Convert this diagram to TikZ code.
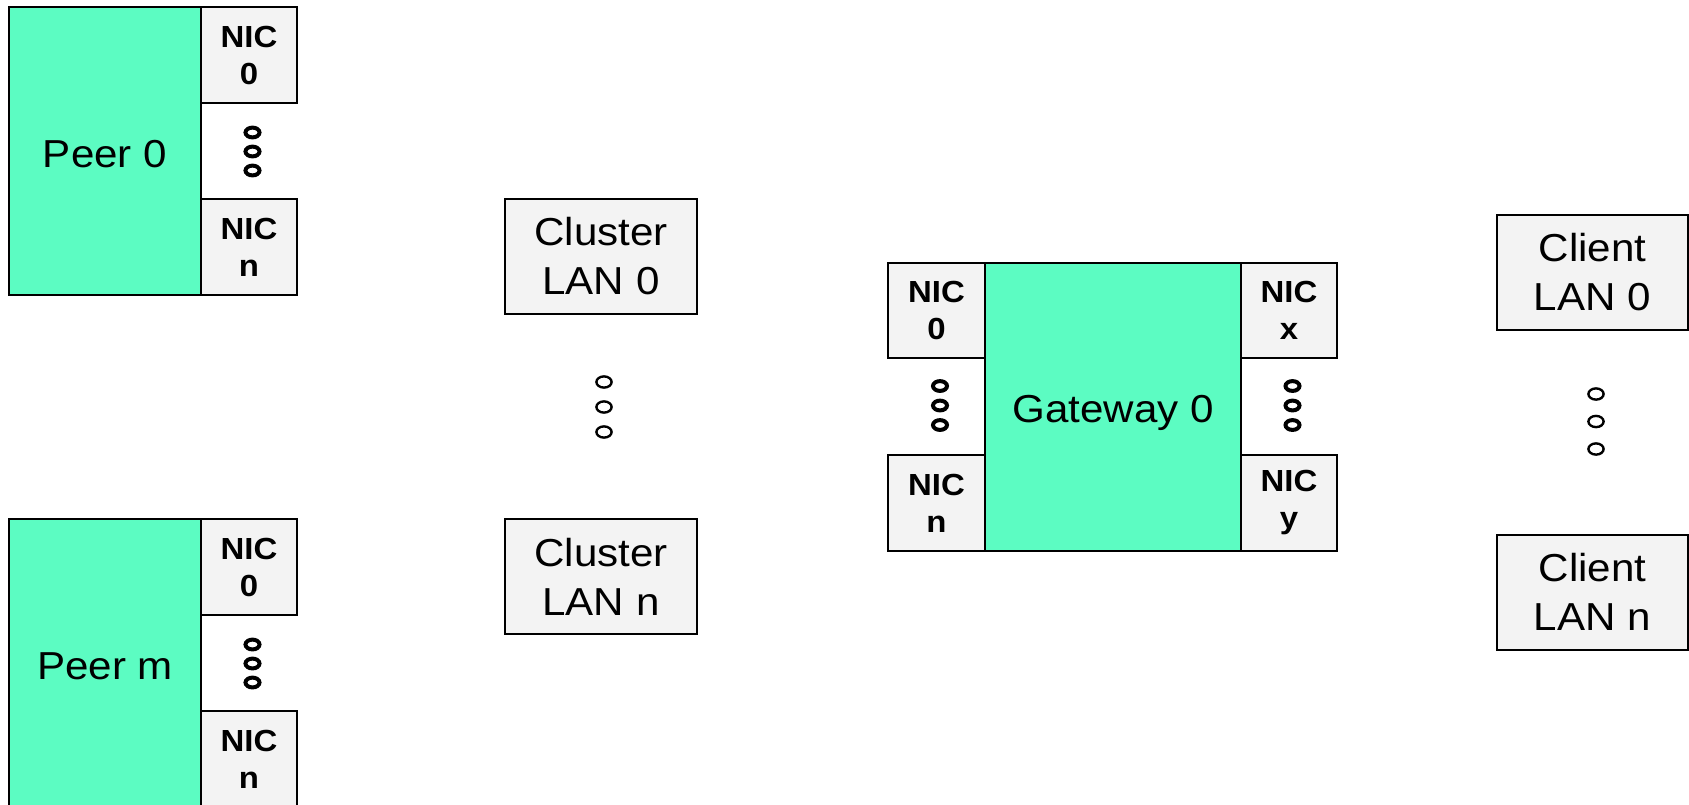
\documentclass[tikz,border=0pt]{standalone}
\usepackage{fontspec}
\setmainfont{Liberation Sans}
\newfontfamily\arialx[FakeStretch=1.08]{Liberation Sans}
\definecolor{peergreen}{RGB}{92,252,194}
\definecolor{nicgrey}{RGB}{243,243,243}
\tikzset{
  box/.style={draw=black, line width=2pt, inner sep=0pt, align=center},
  host/.style={box, fill=peergreen, font=\arialx\fontsize{39}{49}\selectfont,
               text height=32.5pt, text depth=0pt},
  nic/.style={box, fill=nicgrey, minimum width=96pt, minimum height=96pt,
              font=\arialx\bfseries\fontsize{30.5}{37}\selectfont},
  lan/.style={box, fill=nicgrey, minimum width=192pt, minimum height=115pt,
              font=\arialx\fontsize{39}{49}\selectfont},
  dotbold/.style={draw=black, line width=4pt},
  dotthin/.style={draw=black, line width=2.4pt}
}
\begin{document}
\begin{tikzpicture}[x=1pt,y=-1pt]
\useasboundingbox (0,0) rectangle (1689,804);
\clip (0,0) rectangle (1689,804);
\fill[white] (0,0) rectangle (1689,804);

% Peer 0
\node[host, minimum width=192pt, minimum height=288pt] (peer0) at (105,151) {Peer 0};
\node[nic] (p0nic0) at (249,55) {NIC\\0};
\node[nic] (p0nicn) at (249,247) {NIC\\n};
\foreach \yy in {132.5,151.5,170.5}
  \draw[dotbold] (252.5,\yy) ellipse [x radius=7pt, y radius=4.9pt];

% Peer m
\node[host, minimum width=192pt, minimum height=288pt] (peerm) at (105,663) {Peer m};
\node[nic] (pmnic0) at (249,567) {NIC\\0};
\node[nic] (pmnicn) at (249,759) {NIC\\n};
\foreach \yy in {644.5,663.5,682.5}
  \draw[dotbold] (252.5,\yy) ellipse [x radius=7pt, y radius=4.9pt];

% Cluster LANs
\node[lan] (clan0) at (601,256.5) {Cluster\\LAN 0};
\node[lan] (clann) at (601,576.5) {Cluster\\LAN n};
\foreach \yy in {382,407,432}
  \draw[dotthin] (604,\yy) ellipse [x radius=7.6pt, y radius=5.6pt];

% Gateway
\node[host, minimum width=256pt, minimum height=288pt, text height=30pt] (gw) at (1113,407) {Gateway 0};
\node[nic, minimum width=97pt, minimum height=95pt] (gwnic0) at (936.5,310.5) {NIC\\0};
\node[nic, minimum width=97pt] (gwnicn) at (936.5,503) {NIC\\n};
\node[nic, minimum height=95pt] (gwnicx) at (1289,310.5) {NIC\\x};
\node[nic] (gwnicy) at (1289,503) {NIC\\y};
\foreach \yy in {386,405.5,425}
  \draw[dotbold] (940,\yy) ellipse [x radius=7pt, y radius=4.9pt];
\foreach \yy in {386,405.5,425}
  \draw[dotbold] (1292.5,\yy) ellipse [x radius=7pt, y radius=4.9pt];

% Client LANs
\node[lan, minimum width=191pt] (cllan0) at (1592.5,272.5) {Client\\LAN 0};
\node[lan, minimum width=191pt] (cllann) at (1592.5,592) {Client\\LAN n};
\foreach \yy in {394,421.5,449}
  \draw[dotthin] (1596,\yy) ellipse [x radius=7.6pt, y radius=5.6pt];
\end{tikzpicture}
\end{document}
